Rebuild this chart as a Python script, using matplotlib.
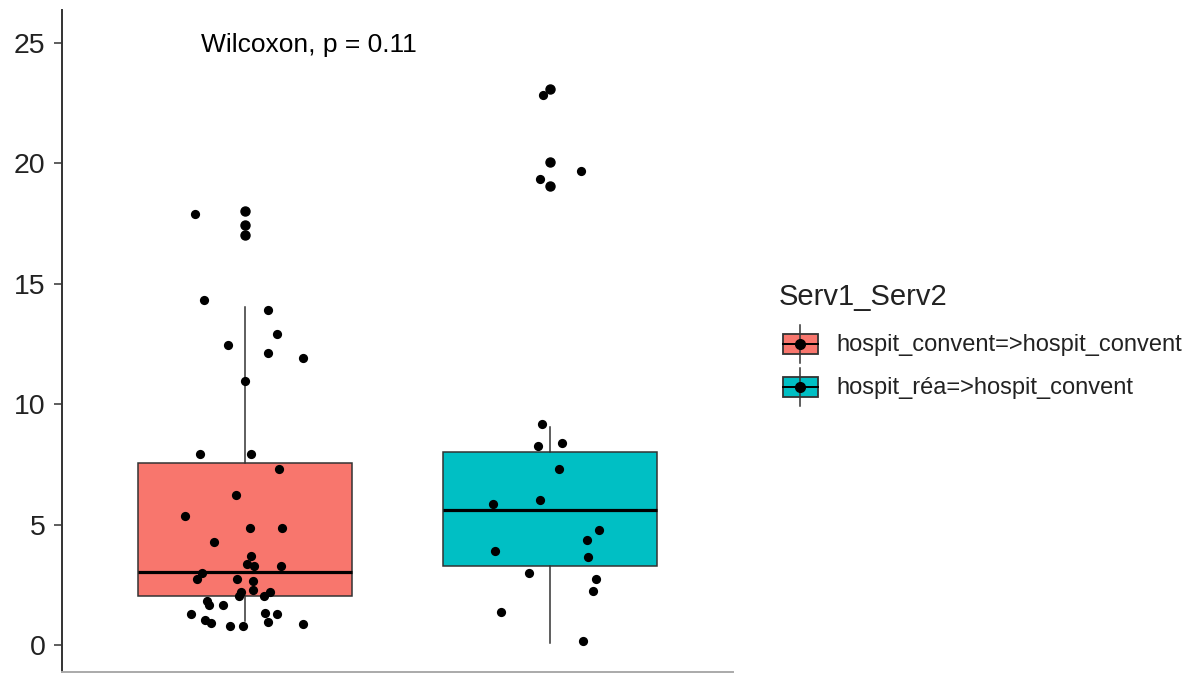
import matplotlib
matplotlib.use("Agg")
import matplotlib.pyplot as plt
from matplotlib.patches import Rectangle

plt.rcParams["font.family"] = ["Liberation Sans", "DejaVu Sans"]

# --- data ---
groups = ["hospit_convent=>hospit_convent", "hospit_réa=>hospit_convent"]
colors = ["#F8766D", "#00BFC4"]
legend_title = "Serv1_Serv2"
p_label = "Wilcoxon, p = 0.11"

# box statistics (q1, median, q3, whisker low, whisker high)
q1 = [2.05, 3.29]
med = [3.02, 5.60]
q3 = [7.54, 8.01]
whislo = [1.0, 0.10]
whishi = [14.02, 9.03]
fliers_1 = [18.02, 17.41, 17.01]
fliers_2 = [23.07, 20.05, 19.03]

# jittered points: horizontal offset from group centre, value
jit_x_1 = [-0.165, -0.134, 0.074, 0.105, -0.055, 0.074, 0.189, 0.0, -0.148, 0.020,
           0.110, -0.031, -0.196, 0.018, 0.121, -0.103, 0.020, 0.007, 0.031, 0.117,
           -0.141, -0.159, -0.025, 0.025, 0.025, -0.013, -0.019, 0.082, 0.061, -0.126,
           -0.117, -0.073, -0.178, 0.067, 0.105, -0.130, -0.111, -0.048, -0.006, 0.074,
           0.189]
jit_y_1 = [17.87, 14.30, 13.91, 12.90, 12.44, 12.13, 11.90, 10.95, 7.94, 7.94,
           7.32, 6.22, 5.37, 4.84, 4.84, 4.29, 3.69, 3.37, 3.29, 3.29,
           2.97, 2.74, 2.75, 2.67, 2.28, 2.21, 2.05, 2.21, 2.05, 1.83,
           1.66, 1.66, 1.27, 1.34, 1.27, 1.04, 0.90, 0.80, 0.80, 0.97,
           0.89]
jit_x_2 = [-0.022, 0.100, -0.033, -0.027, -0.040, 0.040, 0.028, -0.186, -0.033, 0.161,
           0.120, -0.180, 0.126, -0.070, 0.150, 0.142, -0.162, 0.107]
jit_y_2 = [22.83, 19.67, 19.35, 9.18, 8.26, 8.40, 7.30, 5.84, 6.00, 4.76,
           4.36, 3.90, 3.66, 2.97, 2.74, 2.25, 1.36, 0.18]

fig = plt.figure(figsize=(11.92, 6.74), dpi=100)
ax = fig.add_axes([62 / 1192, 2 / 674, (733 - 62) / 1192, (672 - 10) / 674])

stats = []
for i, fl in enumerate([fliers_1, fliers_2]):
    stats.append(dict(q1=q1[i], med=med[i], q3=q3[i], whislo=whislo[i],
                      whishi=whishi[i], fliers=fl, label=groups[i]))

bp = ax.bxp(stats, positions=[1, 2], widths=0.7, patch_artist=True, showcaps=False,
            boxprops=dict(edgecolor="#333333", linewidth=1.1),
            whiskerprops=dict(color="#333333", linewidth=1.1),
            medianprops=dict(color="black", linewidth=2.3),
            flierprops=dict(marker="o", markerfacecolor="black", markeredgecolor="black",
                            markersize=6.5))
for patch, c in zip(bp["boxes"], colors):
    patch.set_facecolor(c)

for i, (xs, ys) in enumerate([(jit_x_1, jit_y_1), (jit_x_2, jit_y_2)]):
    ax.scatter([i + 1 + dx for dx in xs], ys, s=44, color="black", zorder=5, linewidths=0)

ax.text(0.855, 24.9, p_label, fontsize=19, ha="left", va="center")

ax.set_xlim(0.4, 2.6)
ax.set_ylim(-1.12, 26.35)
ax.set_yticks([0, 5, 10, 15, 20, 25])
ax.set_xticks([])
ax.tick_params(axis="y", labelsize=20.5, length=6, width=1.1, color="#333333", pad=6,
               labelcolor="#222222")
for s in ["top", "right"]:
    ax.spines[s].set_visible(False)
ax.spines["left"].set_color("#333333")
ax.spines["left"].set_linewidth(1.4)
ax.spines["bottom"].set_color("#aaaaaa")
ax.spines["bottom"].set_linewidth(1.4)

# legend drawn in pixel coordinates
lg = fig.add_axes([0, 0, 1, 1], facecolor="none")
lg.set_xlim(0, 1192)
lg.set_ylim(674, 0)
lg.axis("off")
lg.text(779, 297, legend_title, fontsize=21, ha="left", va="center", color="#222222")
for i, c in enumerate(colors):
    yc = 344 + i * 43
    lg.plot([800, 800], [yc - 19, yc + 19], color="#333333", lw=1.1)
    lg.add_patch(Rectangle((783, yc - 10), 35, 20, facecolor=c, edgecolor="#333333", lw=1.3))
    lg.plot([783, 818], [yc, yc], color="black", lw=1.4)
    lg.plot([800], [yc], "o", color="black", markersize=7)
    lg.text(836, yc + 1, groups[i], fontsize=17, ha="left", va="center", color="#222222")

fig.savefig("out.png", dpi=100)
